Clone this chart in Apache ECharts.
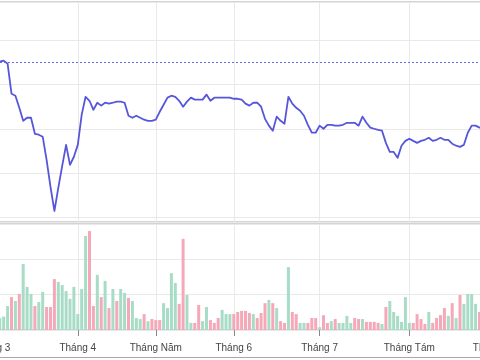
<!DOCTYPE html>
<html>
<head>
<meta charset="utf-8">
<script src="https://cdn.jsdelivr.net/npm/echarts@6/dist/echarts.min.js"></script>
<style>
html,body{margin:0;padding:0;width:480px;height:360px;overflow:hidden;background:#fff;}
#c{position:absolute;left:-40px;top:0;width:560px;height:360px;}
</style>
</head>
<body>
<div id="c"></div>
<script>
// Trading days (2020, MM-DD)
const dates = [
'03-02','03-03','03-04','03-05','03-06','03-09','03-10','03-11','03-12','03-13','03-16','03-17','03-18','03-19','03-20','03-23','03-24','03-25','03-26','03-27','03-30','03-31',
'04-01','04-03','04-06','04-07','04-08','04-09','04-10','04-13','04-14','04-15','04-16','04-17','04-20','04-21','04-22','04-23','04-24','04-27','04-28','04-29',
'05-04','05-05','05-06','05-07','05-08','05-11','05-12','05-13','05-14','05-15','05-18','05-19','05-20','05-21','05-22','05-25','05-26','05-27','05-28','05-29',
'06-01','06-02','06-03','06-04','06-05','06-08','06-09','06-10','06-11','06-12','06-15','06-16','06-17','06-18','06-19','06-22','06-23','06-24','06-25','06-26','06-29','06-30',
'07-01','07-02','07-03','07-06','07-07','07-08','07-09','07-10','07-13','07-14','07-15','07-16','07-17','07-20','07-21','07-22','07-23','07-24','07-27','07-28','07-29','07-30','07-31',
'08-03','08-04','08-05','08-06','08-07','08-10','08-11','08-12','08-13','08-14','08-17','08-18','08-19','08-20','08-21','08-24','08-25','08-26','08-27','08-28','08-31',
'09-01','09-03','09-04'
];
const monthNames = {'03':'Tháng 3','04':'Tháng 4','05':'Tháng Năm','06':'Tháng 6','07':'Tháng 7','08':'Tháng Tám','09':'Tháng 9'};

const price = [
29.05,29.05,29.05,29.09,28.95,27.59,27.50,26.95,26.36,26.50,26.50,25.77,25.73,25.64,24.59,23.36,22.27,23.32,24.32,25.27,24.36,24.73,
25.27,26.64,27.45,27.27,26.86,27.18,27.05,27.18,27.14,27.18,27.23,27.23,27.18,26.59,26.50,26.59,26.50,26.41,26.36,26.36,
26.41,26.77,27.09,27.41,27.50,27.45,27.27,27.00,27.23,27.41,27.32,27.32,27.32,27.55,27.27,27.41,27.41,27.41,27.41,27.41,
27.36,27.36,27.32,27.14,27.05,27.18,27.18,27.00,26.45,26.14,25.91,26.55,26.36,26.23,27.45,27.14,26.95,26.82,26.59,26.18,25.82,25.82,
26.14,26.00,26.18,26.18,26.14,26.14,26.18,26.27,26.27,26.27,26.14,26.55,26.27,26.05,26.00,25.95,25.91,25.36,24.95,24.95,24.68,25.23,25.45,
25.55,25.45,25.36,25.45,25.50,25.59,25.45,25.50,25.59,25.50,25.50,25.32,25.23,25.18,25.27,25.82,26.14,26.14,26.05,26.05,26.09,
26.09,26.05,26.05
];
const refPrice = 29.02;

const volume = [
0.50,0.40,0.34,0.38,0.68,0.93,0.82,1.02,1.87,1.22,1.02,0.68,0.79,1.08,0.65,0.65,1.44,1.36,1.27,1.10,0.88,1.22,
0.45,1.16,2.66,2.80,0.68,1.56,0.93,1.39,0.62,1.16,0.82,1.16,1.05,0.91,0.82,0.34,0.31,0.45,0.25,0.31,
0.28,0.28,0.76,0.62,1.61,1.33,0.74,2.58,0.99,0.20,0.20,0.71,0.25,0.65,0.28,0.20,0.34,0.57,0.45,0.45,
0.45,0.51,0.54,0.54,0.48,0.45,0.34,0.48,0.76,0.85,0.76,0.62,0.25,0.20,1.78,0.51,0.45,0.20,0.20,0.20,0.34,0.34,
0.08,0.42,0.20,0.25,0.31,0.20,0.20,0.40,0.20,0.34,0.31,0.31,0.23,0.23,0.23,0.20,0.17,0.65,0.82,0.51,0.40,0.23,0.93,
0.20,0.20,0.45,0.31,0.17,0.51,0.20,0.34,0.42,0.62,0.40,0.76,0.34,0.99,0.74,1.02,1.02,0.74,0.51,0.50,0.40,
0.45,0.50,0.40
];
// 1 = green bar, 0 = pink bar
const volUp = [
1,1,1,1,1,0,1,0,1,1,1,0,1,1,0,0,0,1,1,1,1,1,
1,1,1,0,0,1,0,1,0,1,0,1,1,0,1,1,1,0,1,0,
0,0,1,1,1,1,0,0,1,1,0,0,1,1,0,0,0,1,1,1,
0,0,0,0,0,1,0,0,0,1,0,1,0,0,1,0,0,1,1,0,0,0,
1,0,0,1,0,1,1,1,1,0,0,1,0,0,0,0,1,0,1,1,1,1,1,
1,0,0,0,0,1,0,0,0,0,1,0,1,0,1,1,1,1,0,1,0,
1,0,1
];

const GREEN = '#a8dcc6', PINK = '#f5a8b7';
const isMonthStart = (i) => i === 0 || dates[i].slice(0,2) !== dates[i-1].slice(0,2);
const splitColor = '#e9e9e9';

const chart = echarts.init(document.getElementById('c'), null, {renderer:'canvas'});
chart.setOption({
  animation: false,
  grid: [
    {left: 32, right: 21, top: 2, height: 220, show: true, borderColor: '#a8a8a8', borderWidth: 1},
    {left: 32, right: 21, top: 224, height: 106, show: true, borderColor: '#a8a8a8', borderWidth: 1}
  ],
  xAxis: [
    {type:'category', gridIndex:0, data: dates, boundaryGap:false,
     axisLine:{show:false}, axisTick:{show:false}, axisLabel:{show:false},
     splitLine:{show:true, interval:(i)=>isMonthStart(i), lineStyle:{color:splitColor}}},
    {type:'category', gridIndex:1, data: dates, boundaryGap:false,
     axisLine:{show:false},
     axisTick:{show:true, interval:(i)=>isMonthStart(i), length:6, lineStyle:{color:'#888'}},
     axisLabel:{show:true, interval:(i)=>isMonthStart(i), margin:13,
       formatter:(v)=>monthNames[v.slice(0,2)], color:'#444', fontSize:10, fontFamily:'Liberation Sans, Arial, sans-serif'},
     splitLine:{show:true, interval:(i)=>isMonthStart(i), lineStyle:{color:splitColor}}}
  ],
  yAxis: [
    {type:'value', gridIndex:0, min:21.77, max:31.75, splitNumber:5, position:'right',
     axisLine:{show:false}, axisTick:{show:false}, axisLabel:{show:false},
     splitLine:{show:true, lineStyle:{color:splitColor}}},
    {type:'value', gridIndex:1, min:0, max:3, splitNumber:3, position:'right',
     axisLine:{show:false}, axisTick:{show:false}, axisLabel:{show:false},
     splitLine:{show:true, lineStyle:{color:splitColor}}}
  ],
  series: [
    {type:'line', xAxisIndex:0, yAxisIndex:0, data: price, symbol:'none',
     lineStyle:{color:'#5656dc', width:1.8, join:'round', cap:'round'},
     markLine:{silent:true, symbol:'none', label:{show:false},
       lineStyle:{color:'#6a6af0', type:[2,2], width:1},
       data:[{yAxis: refPrice}]}},
    {type:'bar', xAxisIndex:1, yAxisIndex:1, barWidth:3,
     data: volume.map((v,i)=>({value:v, itemStyle:{color: volUp[i] ? GREEN : PINK}}))}
  ],
  graphic: [
    {type:'line', shape:{x1:0, y1:357.5, x2:560, y2:357.5}, style:{stroke:'#a8a8a8', lineWidth:1}}
  ]
});
</script>
</body>
</html>
